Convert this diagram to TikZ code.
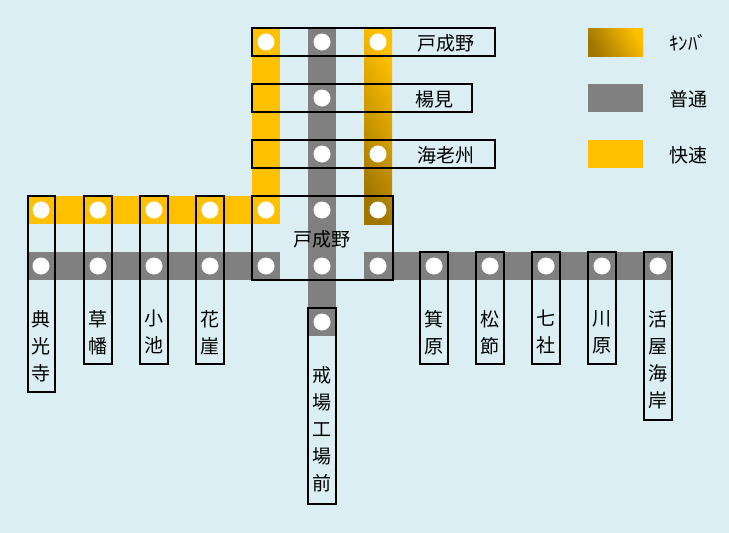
\documentclass[tikz,border=0pt]{standalone}
\usepackage{fontspec}
\setmainfont{Noto Sans CJK JP}
\begin{document}
\begin{tikzpicture}[x=1pt,y=-1pt,
  bg/.style={fill={rgb,255:red,218;green,238;blue,243}},
  gr/.style={fill={rgb,255:red,128;green,128;blue,128}},
  ye/.style={fill={rgb,255:red,255;green,192;blue,0}},
  kb/.style={left color={rgb,255:red,160;green,118;blue,0},right color={rgb,255:red,255;green,192;blue,0},shading angle=120},
  box/.style={draw=black,line width=1.5pt},
  st/.style={circle,fill=white,minimum size=17pt,inner sep=0pt},
  lab/.style={font=\fontsize{19}{27}\selectfont,align=center,inner sep=0pt}]
\path[bg] (0,0) rectangle (729,533);
\useasboundingbox (0,0) rectangle (729,533);
% bands
\path[ye] (252,28) rectangle (280,224);
\path[ye] (28,196) rectangle (280,224);
\path[gr] (28,252) rectangle (280,280);
\path[gr] (364,252) rectangle (672,280);
\path[gr] (308,28) rectangle (336,336);
\path[kb] (364,28) rectangle (392,224);
% boxes
\draw[box] (252,28) rectangle (495,56);
\draw[box] (252,84) rectangle (472,112);
\draw[box] (252,140) rectangle (495,168);
\draw[box] (252,196) rectangle (393,280);
\draw[box] (28,196) rectangle (55,392);
\foreach \x in {84,140,196} \draw[box] (\x,196) rectangle (\x+28,364);
\foreach \x in {420,476,532,588} \draw[box] (\x,252) rectangle (\x+28,364);
\draw[box] (644,252) rectangle (672,420);
\draw[box] (308,308) rectangle (336,504);
% stations
\foreach \n/\x/\y in {a1/266/42,a2/322/42,a3/378/42,b2/322/98,c2/322/154,c3/378/154,
  d1/266/210,d2/322/210,d3/378/210,e1/266/266,e2/322/266,e3/378/266,f/322/322,
  l1a/41/210,l1b/41/266,l2a/98/210,l2b/98/266,l3a/154/210,l3b/154/266,l4a/210/210,l4b/210/266,
  r1/434/266,r2/490/266,r3/546/266,r4/602/266,r5/658/266}
  \node[st] (\n) at (\x,\y) {};
% labels
\node[lab] (t1) at (446,43) {戸成野};
\node[lab] (t2) at (434,99) {楊見};
\node[lab] (t3) at (446,155) {海老州};
\node[lab] (t4) at (322,239) {戸成野};
\node[lab,anchor=north] (s1) at (41,310) {典\\光\\寺};
\node[lab,anchor=north] (s2) at (98,310) {草\\幡};
\node[lab,anchor=north] (s3) at (154,310) {小\\池};
\node[lab,anchor=north] (s4) at (210,310) {花\\崖};
\node[lab,anchor=north] (s5) at (434,310) {箕\\原};
\node[lab,anchor=north] (s6) at (490,310) {松\\節};
\node[lab,anchor=north] (s7) at (546,310) {七\\社};
\node[lab,anchor=north] (s8) at (602,310) {川\\原};
\node[lab,anchor=north] (s9) at (658,310) {活\\屋\\海\\岸};
\node[lab,anchor=north] (s10) at (322,366) {戒\\場\\工\\場\\前};
% legend
\path[kb] (588,28) rectangle (643,56);
\path[gr] (588,84) rectangle (643,112);
\path[ye] (588,140) rectangle (643,168);
\node[lab] (k1) at (688,43) {ｷﾝﾊﾞ};
\node[lab] (k2) at (688,99) {普通};
\node[lab] (k3) at (688,155) {快速};
\end{tikzpicture}
\end{document}
